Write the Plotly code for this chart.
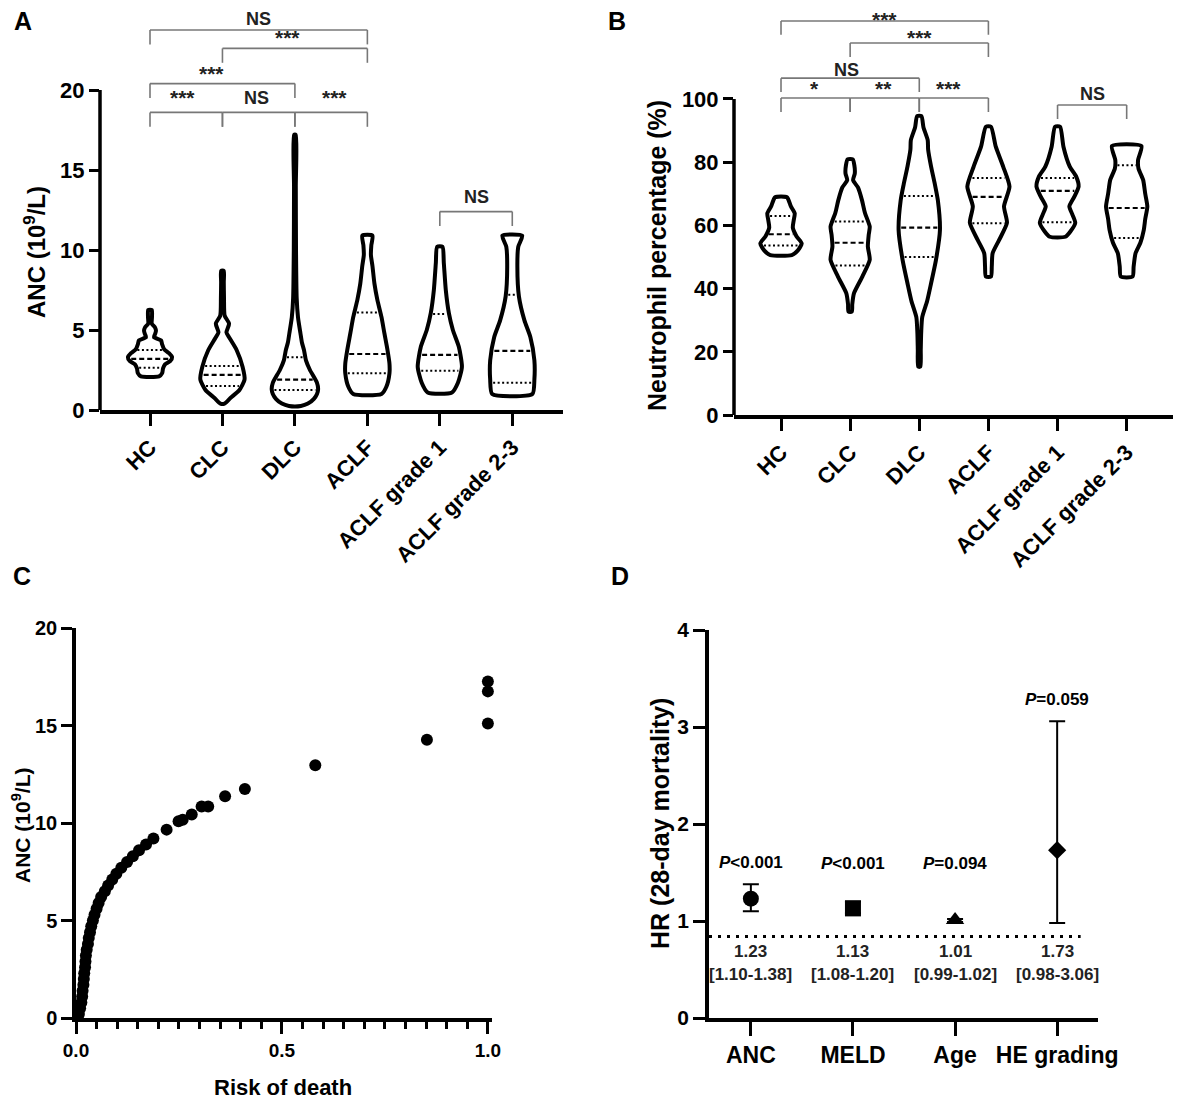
import numpy as np
import plotly.graph_objs as go

FONT = "Liberation Sans, Arial, sans-serif"

# ---- panel A / B : violin outlines ----
GROUPS = ["HC", "CLC", "DLC", "ACLF", "ACLF grade 1", "ACLF grade 2-3"]

# ANC (10^9/L): levels and relative density (1.0 = widest)
ANC_LEVELS = [
    [2.1, 2.3, 2.6, 2.85, 3.05, 3.3, 3.55, 3.8, 4.1, 4.35, 4.55, 4.75, 4.95, 5.15, 5.4, 5.8, 6.25],
    [0.4, 0.75, 1.25, 1.9, 2.7, 3.75, 4.5, 4.85, 5.4, 5.9, 7.0, 8.0, 8.7],
    [0.25, 0.4, 0.7, 1.0, 1.3, 1.7, 2.5, 3.1, 3.75, 4.2, 4.8, 5.8, 7.0, 10.0, 14.0, 17.2],
    [1.0, 1.45, 2.3, 2.9, 3.75, 4.8, 5.8, 6.9, 7.9, 9.0, 9.7, 10.3, 10.9],
    [1.1, 1.7, 2.7, 3.95, 5.0, 6.05, 7.5, 9.2, 10.2],
    [1.0, 1.9, 3.1, 4.55, 5.6, 7.1, 8.95, 10.2, 10.9],
]
ANC_DENS = [
    [0.41, 0.55, 0.59, 0.68, 0.91, 1.0, 0.86, 0.64, 0.55, 0.5, 0.18, 0.23, 0.27, 0.23, 0.08, 0.09, 0.08],
    [0.09, 0.36, 0.77, 1.0, 0.91, 0.64, 0.32, 0.18, 0.3, 0.1, 0.07, 0.06, 0.06],
    [0.27, 0.59, 0.86, 1.0, 1.05, 1.0, 0.68, 0.5, 0.41, 0.32, 0.25, 0.14, 0.08, 0.05, 0.04, 0.04],
    [0.64, 0.86, 1.0, 1.0, 0.91, 0.77, 0.64, 0.45, 0.32, 0.23, 0.16, 0.18, 0.23],
    [0.55, 0.82, 1.0, 0.86, 0.59, 0.41, 0.27, 0.18, 0.12],
    [0.91, 1.0, 1.0, 0.82, 0.55, 0.3, 0.23, 0.27, 0.45],
]
ANC_QUART = [
    [2.64, 3.2, 3.75],
    [1.5, 2.2, 2.75],
    [1.25, 1.9, 3.3],
    [2.3, 3.5, 6.1],
    [2.45, 3.45, 6.0],
    [1.7, 3.7, 7.2],
]

# Neutrophil percentage (%)
NEU_LEVELS = [
    [50.6, 52.0, 54.3, 56.5, 59.3, 61.5, 63.8, 66.0, 68.9],
    [32.7, 35, 38.5, 43.8, 49.1, 53.3, 57, 59.6, 64, 68, 72, 74.3, 76.4, 79, 80.9],
    [15.3, 20.6, 26, 31, 36, 41.7, 49, 58.5, 68, 73, 78.6, 84, 87, 91, 94.6],
    [43.8, 47, 51.2, 55.4, 60.8, 66, 72.3, 78.6, 84.9, 91.2],
    [56.4, 58, 60.8, 63.5, 66, 69, 72.3, 75.5, 78.6, 84.9, 91.2],
    [43.8, 47, 51.2, 54.5, 58.5, 62, 66, 70, 74.4, 78, 80.7, 85.1],
]
NEU_DENS = [
    [0.51, 0.79, 0.98, 0.74, 0.56, 0.6, 0.65, 0.47, 0.28],
    [0.08, 0.1, 0.18, 0.58, 0.93, 0.84, 0.88, 0.93, 0.7, 0.56, 0.37, 0.14, 0.22, 0.2, 0.12],
    [0.05, 0.07, 0.09, 0.14, 0.37, 0.56, 0.79, 0.98, 0.88, 0.74, 0.56, 0.42, 0.4, 0.2, 0.1],
    [0.12, 0.16, 0.2, 0.51, 0.88, 0.74, 1.0, 0.7, 0.35, 0.12],
    [0.37, 0.6, 0.84, 0.7, 0.56, 0.79, 1.0, 0.88, 0.58, 0.28, 0.12],
    [0.28, 0.33, 0.42, 0.65, 0.81, 0.88, 0.98, 0.88, 0.78, 0.56, 0.54, 0.7],
]
NEU_QUART = [
    [53.6, 57.2, 63.0],
    [47.3, 54.5, 61.2],
    [50.0, 59.3, 69.3],
    [60.7, 69.0, 75.0],
    [61.0, 70.9, 75.0],
    [56.0, 65.5, 79.0],
]

# significance brackets: (from group, to group, label)
ANC_SIG = [("HC", "ACLF", "NS"), ("CLC", "ACLF", "***"), ("HC", "DLC", "***"),
           ("HC", "CLC", "***"), ("CLC", "DLC", "NS"), ("DLC", "ACLF", "***"),
           ("ACLF grade 1", "ACLF grade 2-3", "NS")]
NEU_SIG = [("HC", "ACLF", "***"), ("CLC", "ACLF", "***"), ("HC", "DLC", "NS"),
           ("HC", "CLC", "*"), ("CLC", "DLC", "**"), ("DLC", "ACLF", "***"),
           ("ACLF grade 1", "ACLF grade 2-3", "NS")]

# ---- panel C : risk of death vs ANC ----
RISK = [0.007, 0.010, 0.013, 0.015, 0.016, 0.018, 0.019, 0.020, 0.022, 0.023, 0.024,
        0.026, 0.029, 0.031, 0.034, 0.037, 0.041, 0.045, 0.050, 0.055, 0.061, 0.070,
        0.078, 0.088, 0.098, 0.110, 0.124, 0.138, 0.153, 0.170, 0.188, 0.220, 0.249,
        0.259, 0.281, 0.305, 0.321, 0.362, 0.410, 0.581, 0.852, 1.0, 1.0, 1.0]
RISK_ANC = [0.2, 0.5, 0.8, 1.1, 1.4, 1.7, 2.0, 2.3, 2.6, 2.9, 3.2,
            3.5, 3.8, 4.1, 4.4, 4.7, 5.0, 5.3, 5.6, 5.9, 6.2, 6.5,
            6.8, 7.1, 7.4, 7.7, 8.0, 8.3, 8.6, 8.9, 9.2, 9.66, 10.09,
            10.17, 10.43, 10.85, 10.85, 11.37, 11.74, 12.96, 14.27, 17.26, 16.75, 15.1]

# ---- panel D : hazard ratios ----
HR_VARS = ["ANC", "MELD", "Age", "HE grading"]
HR = [1.23, 1.13, 1.01, 1.73]
HR_LO = [1.10, 1.08, 0.99, 0.98]
HR_HI = [1.38, 1.20, 1.02, 3.06]
HR_P = ["<0.001", "<0.001", "=0.094", "=0.059"]
HR_SYMBOLS = ["circle", "square", "triangle-up", "diamond"]
HR_SIZES = [16, 16, 16, 14]
HR_REF = 0.84

VIOLIN_HALF = 0.305

# page offset of the plot div (browser body margin) and figure size
OFF = 8
W, H = 1182.0 - OFF, 1102.0 - OFF


def px_x(px):
    return (px - OFF) / W


def px_y(py):
    return 1 - (py - OFF) / H


def bold(size, color="black"):
    return dict(family=FONT, size=size, color=color, weight="bold")


def violin(center, levels, dens, xa, ya):
    right = [center + d * VIOLIN_HALF for d in dens]
    left = [center - d * VIOLIN_HALF for d in dens[::-1]]
    xs = right + left + [right[0]]
    ys = list(levels) + list(levels[::-1]) + [levels[0]]
    return go.Scatter(x=xs, y=ys, mode="lines", fill="toself", fillcolor="white",
                      line=dict(color="black", width=4, shape="spline", smoothing=0.6),
                      xaxis=xa, yaxis=ya, hoverinfo="skip", showlegend=False)


def quartiles(center, levels, dens, quart, xa, ya, inset):
    traces = []
    for i, q in enumerate(quart):
        w = np.interp(q, levels, dens) * VIOLIN_HALF - inset
        dash = "5px,3px" if i == 1 else "2px,2.5px"
        traces.append(go.Scatter(x=[center - w, center + w], y=[q, q], mode="lines",
                                 line=dict(color="black", width=2.2 if i == 1 else 2, dash=dash),
                                 xaxis=xa, yaxis=ya, hoverinfo="skip", showlegend=False))
    return traces


def bracket_shapes(sig, rows, xref, yref, drop):
    shapes, notes = [], []
    for (a, b, label), (y, ly, lx) in zip(sig, rows):
        x0, x1 = GROUPS.index(a), GROUPS.index(b)
        line = dict(color="#777777", width=1.6)
        shapes.append(dict(type="line", xref=xref, yref=yref, x0=x0, x1=x1, y0=y, y1=y, line=line))
        for xx in (x0, x1):
            shapes.append(dict(type="line", xref=xref, yref=yref, x0=xx, x1=xx, y0=y, y1=y - drop, line=line))
        size = 18 if label == "NS" else 21
        notes.append(dict(x=lx, y=ly, xref=xref, yref=yref, text=label, showarrow=False,
                          font=bold(size, "#222222"), yanchor="middle"))
    return shapes, notes


fig = go.Figure()

for i, g in enumerate(GROUPS):
    fig.add_trace(violin(i, ANC_LEVELS[i], ANC_DENS[i], "x", "y"))
    for t in quartiles(i, ANC_LEVELS[i], ANC_DENS[i], ANC_QUART[i], "x", "y", 0.035):
        fig.add_trace(t)
    fig.add_trace(violin(i, NEU_LEVELS[i], NEU_DENS[i], "x2", "y2"))
    for t in quartiles(i, NEU_LEVELS[i], NEU_DENS[i], NEU_QUART[i], "x2", "y2", 0.035):
        fig.add_trace(t)

fig.add_trace(go.Scatter(x=RISK, y=RISK_ANC, mode="markers", cliponaxis=False,
                         marker=dict(color="black", size=12, opacity=1, line=dict(width=0)),
                         xaxis="x3", yaxis="y3", showlegend=False))

fig.add_trace(go.Scatter(x=[-0.41, 3.23], y=[HR_REF, HR_REF], mode="lines",
                         line=dict(color="black", width=3, dash="3px,6px"),
                         xaxis="x4", yaxis="y4", showlegend=False))
for i, name in enumerate(HR_VARS):
    fig.add_trace(go.Scatter(
        x=[i], y=[HR[i]], mode="markers", cliponaxis=False, name=name,
        marker=dict(color="black", size=HR_SIZES[i], symbol=HR_SYMBOLS[i], opacity=1,
                    line=dict(width=0)),
        error_y=dict(type="data", symmetric=False, array=[HR_HI[i] - HR[i]],
                     arrayminus=[HR[i] - HR_LO[i]], width=8, thickness=2, color="black"),
        xaxis="x4", yaxis="y4", showlegend=False))

# bracket rows: (bar y, label y, label x)
anc_rows = [(23.75, 24.45, 1.5), (22.6, 23.3, 1.9), (20.4, 21.0, 0.85),
            (18.6, 19.5, 0.45), (18.6, 19.5, 1.47), (18.6, 19.5, 2.55), (12.4, 13.3, 4.5)]
neu_rows = [(124.7, 125.0, 1.5), (117.7, 119.4, 2.0), (106.6, 109.3, 0.94),
            (100.3, 103.3, 0.48), (100.3, 103.3, 1.48), (100.3, 103.3, 2.42), (98.1, 101.6, 4.5)]
shapes_a, notes_a = bracket_shapes(ANC_SIG, anc_rows, "x", "y", 0.9)
shapes_b, notes_b = bracket_shapes(NEU_SIG, neu_rows, "x2", "y2", 4.4)

axis_line = dict(color="black", width=3.5)
shapes = shapes_a + shapes_b + [
    dict(type="line", xref="x domain", yref="y", x0=0, x1=0, y0=0, y1=20, line=axis_line),
    dict(type="line", xref="x2 domain", yref="y2", x0=0, x1=0, y0=0, y1=100, line=axis_line),
]

notes = notes_a + notes_b
for i, (p, hi) in enumerate(zip(HR_P, HR_HI)):
    notes.append(dict(x=i, y=max(hi + 0.22, 1.59), xref="x4", yref="y4", showarrow=False,
                      text="<i>P</i>" + p.replace("<", "&lt;"), font=bold(17)))
    notes.append(dict(x=i, y=0.69, xref="x4", yref="y4", showarrow=False,
                      text="%.2f" % HR[i], font=bold(17, "#222222")))
    notes.append(dict(x=i, y=0.45, xref="x4", yref="y4", showarrow=False,
                      text="[%.2f-%.2f]" % (HR_LO[i], HR_HI[i]), font=bold(17, "#222222")))

# axis titles and panel letters (positions in page pixels)
for text, px, py, ang, size in [
        ("ANC (10<sup>9</sup>/L)", 35, 252, -90, 24),
        ("Neutrophil percentage (%)", 657, 256, -90, 25),
        ("ANC (10<sup>9</sup>/L)", 21, 825, -90, 21),
        ("Risk of death", 283, 1087, 0, 22),
        ("HR (28-day mortality)", 660, 824, -90, 25),
        ("A", 23, 21, 0, 25), ("B", 617, 21, 0, 25),
        ("C", 22, 576, 0, 25), ("D", 620, 576, 0, 25)]:
    notes.append(dict(x=px_x(px), y=px_y(py), xref="paper", yref="paper", text=text,
                      textangle=ang, showarrow=False, font=bold(size),
                      xanchor="center", yanchor="middle"))

base = dict(showgrid=False, zeroline=False, ticks="outside", tickwidth=3,
            tickcolor="black", linecolor="black", linewidth=3.5, automargin=False)

fig.update_layout(
    template="none",
    width=W, height=H, autosize=False,
    margin=dict(l=0, r=0, t=0, b=0, pad=0, autoexpand=False),
    paper_bgcolor="white", plot_bgcolor="white",
    font=dict(family=FONT, color="black"),
    showlegend=False,
    shapes=shapes, annotations=notes,
    xaxis=dict(base, domain=[px_x(100), px_x(563)], range=[-0.69, 5.7], anchor="y",
               tickvals=list(range(6)), ticktext=GROUPS, tickangle=-45, ticklen=12,
               showline=True, tickfont=bold(22)),
    yaxis=dict(base, domain=[px_y(410), px_y(10)], range=[0, 25], anchor="x",
               tickvals=[0, 5, 10, 15, 20], ticklen=10, showline=False, tickfont=bold(22)),
    xaxis2=dict(base, domain=[px_x(734), px_x(1173)], range=[-0.68, 5.67], anchor="y2",
                tickvals=list(range(6)), ticktext=GROUPS, tickangle=-45, ticklen=12,
                showline=True, tickfont=bold(22)),
    yaxis2=dict(base, domain=[px_y(415), px_y(10.5)], range=[0, 128], anchor="x2",
                tickvals=[0, 20, 40, 60, 80, 100], ticklen=10, showline=False, tickfont=bold(22)),
    xaxis3=dict(base, domain=[px_x(76), px_x(492)], range=[0, 1.01], anchor="y3",
                tick0=0, dtick=0.5, tickformat=".1f", ticklen=12, showline=True,
                tickfont=bold(19),
                minor=dict(ticks="outside", dtick=0.05, tick0=0, ticklen=7, tickwidth=3,
                           tickcolor="black", showgrid=False)),
    yaxis3=dict(base, domain=[px_y(1018), px_y(628)], range=[0, 20], anchor="x3",
                dtick=5, ticklen=11, showline=True, tickfont=bold(20)),
    xaxis4=dict(base, domain=[px_x(709), px_x(1098)], range=[-0.41, 3.4], anchor="y4",
                tickvals=list(range(4)), ticktext=HR_VARS, ticklen=14, showline=True,
                tickfont=bold(23)),
    yaxis4=dict(base, domain=[px_y(1018), px_y(630)], range=[0, 4], anchor="x4",
                dtick=1, ticklen=12, showline=True, tickfont=bold(21)),
)

fig.write_html("out.html")
